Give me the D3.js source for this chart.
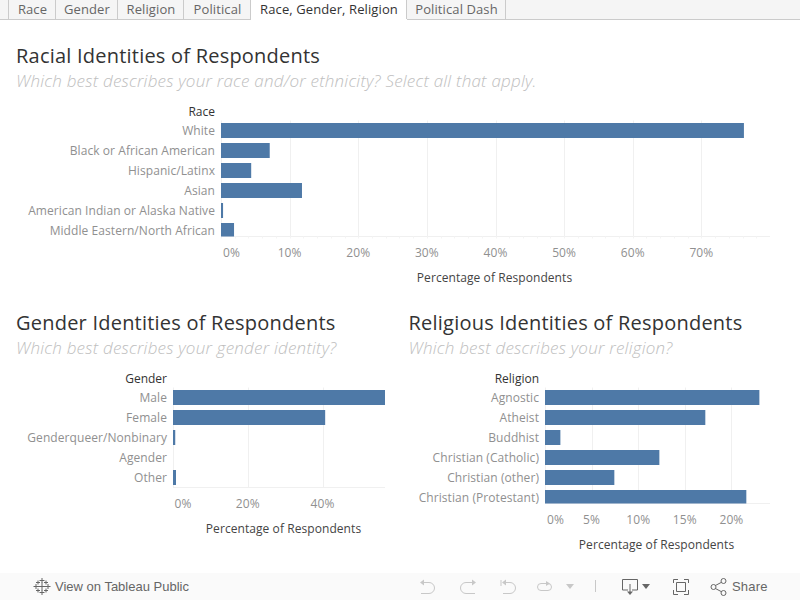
<!DOCTYPE html>
<html><head><meta charset="utf-8">
<script src="https://cdnjs.cloudflare.com/ajax/libs/d3/7.9.0/d3.min.js"></script>
<style>html,body{margin:0;padding:0;background:#fff;overflow:hidden}svg{display:block}text{font-family:"Open Sans",sans-serif}</style>
</head><body><svg id="c" width="800" height="600"></svg>
<script>
const tabNames=["Race","Gender","Religion","Political","Race, Gender, Religion","Political Dash"];
const tabEdges=[9,56,118,184,251,407,506];
const activeTab=4;
const raceCats=["White","Black or African American","Hispanic/Latinx","Asian","American Indian or Alaska Native","Middle Eastern/North African"];
const raceVals=[76.2,7.1,4.4,11.8,0.3,1.9];
const raceTicks=[0,10,20,30,40,50,60,70];
const genderCats=["Male","Female","Genderqueer/Nonbinary","Agender","Other"];
const genderVals=[56.7,40.7,0.6,0,0.8];
const genderTicks=[0,20,40];
const religionCats=["Agnostic","Atheist","Buddhist","Christian (Catholic)","Christian (other)","Christian (Protestant)"];
const religionVals=[23.0,17.2,1.65,12.27,7.44,21.6];
const religionTicks=[0,5,10,15,20];
const panels=[
 {id:"race",title:"Racial Identities of Respondents",sub:"Which best describes your race and/or ethnicity? Select all that apply.",head:"Race",cats:raceCats,vals:raceVals,ticks:raceTicks,
  tx:16,ty:62.5,sy:87,x0:221,x1:770,dom:[0,80],top:120.5,bottom:236.5,zero:231,titleX:495,minor:d3.range(0,80,2)},
 {id:"gender",title:"Gender Identities of Respondents",sub:"Which best describes your gender identity?",head:"Gender",cats:genderCats,vals:genderVals,ticks:genderTicks,
  tx:16,ty:329.5,sy:354,x0:173,x1:385,dom:[0,56.7],top:387.5,bottom:487.5,zero:182.5,titleX:284,minor:[]},
 {id:"religion",title:"Religious Identities of Respondents",sub:"Which best describes your religion?",head:"Religion",cats:religionCats,vals:religionVals,ticks:religionTicks,
  tx:408.5,ty:329.5,sy:354,x0:545,x1:770,dom:[0,24.14],top:387.5,bottom:503.5,zero:555,titleX:657,minor:[]}
];
const svg=d3.select("#c");
// tabs
svg.append("rect").attr("x",0).attr("y",0).attr("width",800).attr("height",19).attr("fill","#f5f5f5");
svg.append("line").attr("x1",0).attr("x2",800).attr("y1",19.5).attr("y2",19.5).attr("stroke","#cbcbcb");
tabNames.forEach((t,i)=>{
 const a=tabEdges[i],b=tabEdges[i+1];
 if(i===activeTab) svg.append("rect").attr("x",a).attr("y",0).attr("width",b-a).attr("height",20).attr("fill","#fff");
 svg.append("text").attr("x",(a+b)/2).attr("y",14).attr("text-anchor","middle").attr("font-size",13).attr("letter-spacing",.1).attr("fill",i===activeTab?"#333":"#666").text(t);
});
tabEdges.forEach(e=>svg.append("line").attr("x1",e-.5).attr("x2",e-.5).attr("y1",0).attr("y2",19).attr("stroke","#cbcbcb"));
// panels
panels.forEach(p=>{
 const g=svg.append("g").attr("id",p.id);
 g.append("text").attr("x",p.tx).attr("y",p.ty).attr("font-size",20).attr("font-weight",500).attr("letter-spacing",.22).attr("fill","#333").text(p.title);
 g.append("text").attr("x",p.tx).attr("y",p.sy).attr("font-size",17).attr("font-weight",300).attr("font-style","italic").attr("letter-spacing",.22).attr("fill","#bebebe").text(p.sub);
 const x=d3.scaleLinear().domain(p.dom).range([p.x0,p.x1]);
 const rowH=20;
 const y=d3.scaleBand().domain(p.cats).range([p.top,p.top+rowH*p.cats.length]);
 g.selectAll(".grid").data(p.ticks).join("line").attr("x1",d=>Math.round(x(d))+.5).attr("x2",d=>Math.round(x(d))+.5).attr("y1",p.top).attr("y2",p.bottom).attr("stroke","#f0f0f0");
 g.append("line").attr("x1",p.x0).attr("x2",p.x1).attr("y1",p.bottom).attr("y2",p.bottom).attr("stroke","#f0f0f0");
 g.selectAll(".minor").data(p.minor).join("line").attr("x1",d=>Math.round(x(d))+.5).attr("x2",d=>Math.round(x(d))+.5).attr("y1",p.bottom).attr("y2",p.bottom+2).attr("stroke","#f4f4f4");
 const clipId="clip-"+p.id;
 svg.append("clipPath").attr("id",clipId).append("rect").attr("x",p.x0-2).attr("y",p.top).attr("width",p.x1-p.x0+4).attr("height",p.bottom-p.top);
 g.append("g").attr("clip-path",`url(#${clipId})`).selectAll("rect").data(p.cats).join("rect")
  .attr("x",p.x0).attr("y",d=>y(d)+2.5).attr("width",(d,i)=>x(p.vals[i])-p.x0).attr("height",15).attr("fill","#4e79a7");
 g.selectAll(".cat").data(p.cats).join("text").attr("x",p.x0-6).attr("y",d=>y(d)+rowH/2+4.5).attr("text-anchor","end").attr("font-size",12).attr("letter-spacing",.07).attr("fill","#909090").text(d=>d);
 g.append("text").attr("x",p.x0-6).attr("y",p.top-4.5).attr("text-anchor","end").attr("font-size",12).attr("fill","#333").text(p.head);
 const ax=g.append("g").attr("transform",`translate(0,${p.bottom})`).call(d3.axisBottom(x).tickValues(p.ticks).tickSize(0).tickPadding(12).tickFormat(d=>d+"%"));
 ax.select(".domain").remove();
 ax.selectAll("text").attr("font-size",12).attr("letter-spacing",.1).attr("fill","#909090").style("font-family",'"Open Sans",sans-serif').attr("x",d=>d===0?p.zero-x(0):-.5);
 g.append("text").attr("x",p.titleX-.5).attr("y",p.bottom+45.5).attr("text-anchor","middle").attr("font-size",12).attr("letter-spacing",.07).attr("fill","#444").text("Percentage of Respondents");
});
// footer
const foot=svg.append("g");
foot.append("rect").attr("x",0).attr("y",573).attr("width",800).attr("height",27).attr("fill","#fafafa");
foot.append("text").attr("x",55).attr("y",591).attr("font-size",13).attr("fill","#666").style("font-family","Liberation Sans").text("View on Tableau Public");
foot.append("text").attr("x",732).attr("y",591).attr("font-size",13).attr("letter-spacing",.2).attr("fill","#666").style("font-family","Liberation Sans").text("Share");
const off="#c8c8c8",on="#666";
const stroke=(d,c)=>foot.append("path").attr("d",d).attr("fill","none").attr("stroke",c).attr("stroke-width",1);
const fill=(d,c)=>foot.append("path").attr("d",d).attr("fill",c);
[[42,586.5,4],[36,586.5,2.5],[48,586.5,2.5],[42,580.5,2.5],[42,592.5,2.5],[38,582.5,2],[46,582.5,2],[38,590.5,2],[46,590.5,2]].forEach(([cx,cy,r])=>
 stroke(`M${cx-r} ${cy}H${cx+r}M${cx} ${cy-r}V${cy+r}`,on));
stroke("M421 582.5H429a5.5 5.5 0 0 1 0 11H421",off); fill("M424 579.5L420 582.5L424 585.5Z",off);
stroke("M475 582.5H466a5.5 5.5 0 0 0 0 11H475",off); fill("M472 579.5L476 582.5L472 585.5Z",off);
stroke("M501 580V586M504 582.5H510a5.5 5.5 0 0 1 0 11H503",off); fill("M506 579.5L502 582.5L506 585.5Z",off);
stroke("M541 583.5H548a3.5 3.5 0 0 1 0 7H541a3.5 3.5 0 0 1 0 -7",off); fill("M546 581L550 583.5L546 586Z",off);
fill("M566 584H574L570 589Z",off);
stroke("M595.5 580V592",off);
stroke("M628 590H622.5V579.5H637.5V590H632M630 584V594",on); fill("M627 591.5H633L630 595Z",on);
fill("M642 584H650L646 589Z",on);
stroke("M673.5 583V579.5H678M684 579.5H688.5V583M688.5 590V594.5H684M678 594.5H673.5V590",on);
stroke("M676.5 582.5H685.5V591.5H676.5Z",on);
stroke("M714.5 586L722 582M714.5 588L722 592",on);
foot.append("circle").attr("cx",713.5).attr("cy",587).attr("r",2.5).attr("fill","#fafafa").attr("stroke",on);
foot.append("circle").attr("cx",723.5).attr("cy",581).attr("r",2.5).attr("fill","#fafafa").attr("stroke",on);
foot.append("circle").attr("cx",723.5).attr("cy",593).attr("r",2.5).attr("fill","#fafafa").attr("stroke",on);
</script></body></html>
